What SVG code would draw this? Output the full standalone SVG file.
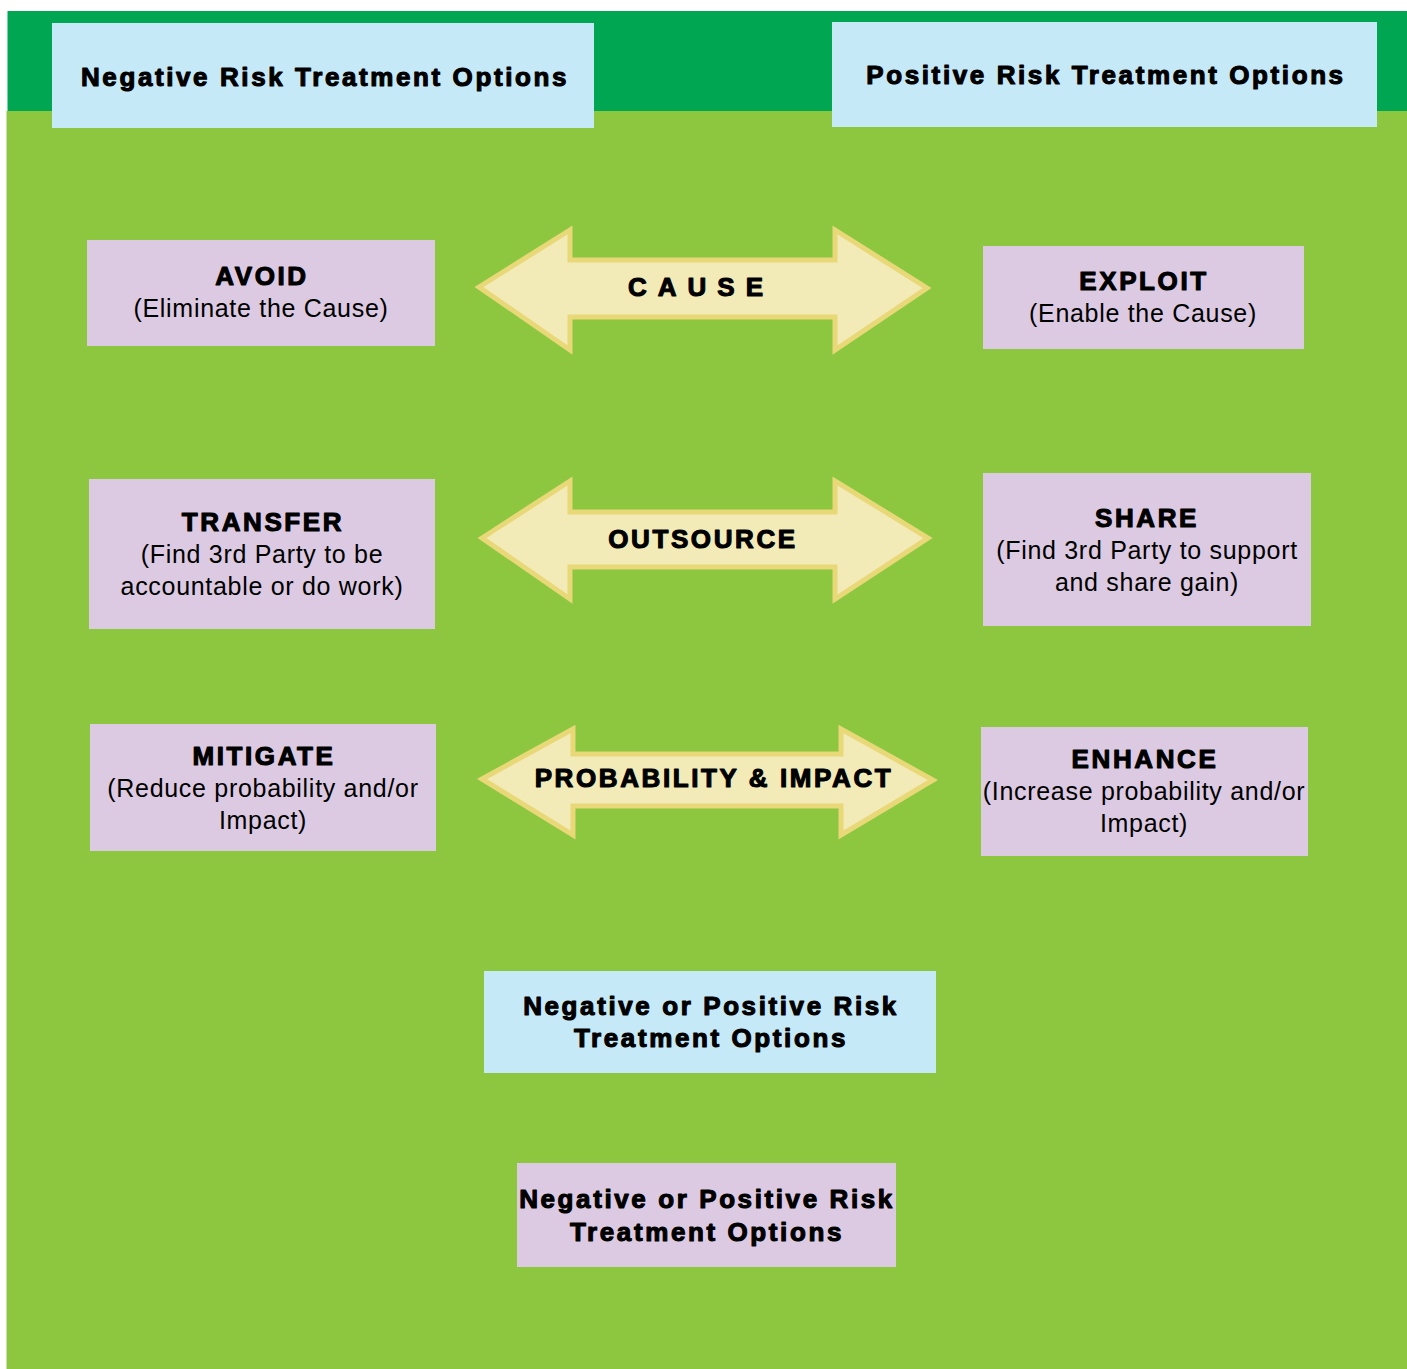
<svg xmlns="http://www.w3.org/2000/svg" width="1407" height="1369" viewBox="0 0 1407 1369">
<style>
.bg{fill:#ffffff}
.band{fill:#00a651}
.field{fill:#8dc63f}
.blue{fill:#c6e9f8}
.purple{fill:#dccae2}
.arrow{fill:#f2ebb8;stroke:#e8d878;stroke-width:5;stroke-linejoin:miter}
text{font-family:"Liberation Sans",Arial,sans-serif;fill:#000;text-anchor:middle}
.b{font-size:26px;font-weight:bold;letter-spacing:2.6px;stroke:#000;stroke-width:1.1px;stroke-linejoin:round}
.r{font-size:25px;letter-spacing:0.7px}
.wide{letter-spacing:11px}
</style>
<rect class="bg" x="0" y="0" width="1407" height="1369"/>
<rect class="band" x="7.5" y="11" width="1400" height="100"/>
<rect class="field" x="6.5" y="111" width="1400.5" height="1258"/>

<g id="connectors">
  <g id="arrow-cause">
    <polygon class="arrow" points="479,287 570,230 570,260 835,260 835,230 927,288 835,350 835,317 570,317 570,350"/>
    <text class="b wide" x="701" y="296">CAUSE</text>
  </g>
  <g id="arrow-outsource">
    <polygon class="arrow" points="482,538 570,481 570,512 835,512 835,481 928,538 835,599 835,567 570,567 570,599"/>
    <text class="b" x="703" y="548">OUTSOURCE</text>
  </g>
  <g id="arrow-probability">
    <polygon class="arrow" points="482,779 573,729 573,754 841,754 841,729 933,780 841,835 841,806 573,806 573,835"/>
    <text class="b" x="714" y="787">PROBABILITY &amp; IMPACT</text>
  </g>
</g>

<g id="header-negative">
  <rect class="blue" x="52" y="23" width="542" height="105"/>
  <text class="b" x="325" y="86">Negative Risk Treatment Options</text>
</g>
<g id="header-positive">
  <rect class="blue" x="832" y="22" width="545" height="105"/>
  <text class="b" x="1106" y="84">Positive Risk Treatment Options</text>
</g>

<g id="avoid">
  <rect class="purple" x="87" y="240" width="348" height="106"/>
  <text class="b" x="262" y="285">AVOID</text>
  <text class="r" x="261" y="317">(Eliminate the Cause)</text>
</g>
<g id="exploit">
  <rect class="purple" x="983" y="246" width="321" height="103"/>
  <text class="b" x="1144" y="290">EXPLOIT</text>
  <text class="r" x="1143" y="322">(Enable the Cause)</text>
</g>
<g id="transfer">
  <rect class="purple" x="89" y="479" width="346" height="150"/>
  <text class="b" x="263" y="531">TRANSFER</text>
  <text class="r" x="262" y="563">(Find 3rd Party to be</text>
  <text class="r" x="262" y="595">accountable or do work)</text>
</g>
<g id="share">
  <rect class="purple" x="983" y="473" width="328" height="153"/>
  <text class="b" x="1147" y="527">SHARE</text>
  <text class="r" x="1147" y="559">(Find 3rd Party to support</text>
  <text class="r" x="1147" y="591">and share gain)</text>
</g>
<g id="mitigate">
  <rect class="purple" x="90" y="724" width="346" height="127"/>
  <text class="b" x="264" y="765">MITIGATE</text>
  <text class="r" x="263" y="797">(Reduce probability and/or</text>
  <text class="r" x="263" y="829">Impact)</text>
</g>
<g id="enhance">
  <rect class="purple" x="981" y="727" width="327" height="129"/>
  <text class="b" x="1145" y="768">ENHANCE</text>
  <text class="r" x="1144" y="800">(Increase probability and/or</text>
  <text class="r" x="1144" y="832">Impact)</text>
</g>
<g id="legend-blue">
  <rect class="blue" x="484" y="971" width="452" height="102"/>
  <text class="b" x="711" y="1015">Negative or Positive Risk</text>
  <text class="b" x="711" y="1047">Treatment Options</text>
</g>
<g id="legend-purple">
  <rect class="purple" x="517" y="1163" width="379" height="104"/>
  <text class="b" x="707" y="1208">Negative or Positive Risk</text>
  <text class="b" x="707" y="1241">Treatment Options</text>
</g>
</svg>
